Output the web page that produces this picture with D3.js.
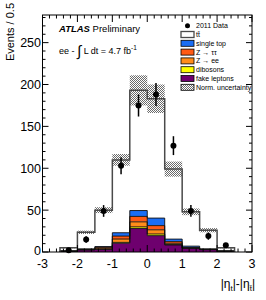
<!DOCTYPE html>
<html><head><meta charset="utf-8">
<script src="https://cdn.jsdelivr.net/npm/d3@7"></script>
<style>body{margin:0;background:#fff}svg{display:block}text{font-family:"Liberation Sans",Arial,sans-serif}</style>
</head><body>
<svg id="c" width="266" height="300"></svg>
<script>
const binEdges = [-2.5,-2,-1.5,-1,-0.5,0,0.5,1,1.5,2,2.5];
const fakeLeptons = [0.8, 2.5, 3.2, 10.5, 28, 19.5, 8.4, 4.4, 2.8, 0.8];
const dibosons    = [0.1, 0.2, 0.3, 1.0, 2.0, 2.0, 0.5, 0.2, 0.1, 0.1];
const zee         = [0.1, 0.3, 1.2, 4.0, 6.0, 5.0, 1.5, 0.4, 0.2, 0.1];
const ztautau     = [0.1, 0.3, 1.0, 3.5, 6.5, 5.0, 2.0, 0.5, 0.2, 0.1];
const singleTop   = [0.2, 0.4, 0.8, 4.0, 7.0, 9.0, 3.0, 1.5, 0.4, 0.2];
const ttbar       = [3.7, 19.8, 43.5, 87.0, 143.5, 142.5, 83.6, 41.0, 22.3, 3.7];
const normUnc     = [0.5, 2.0, 3.5, 7.0, 18.0, 17.0, 9.0, 4.0, 2.5, 0.5];
const dataX = [-2.25,-1.75,-1.25,-0.75,-0.25,0.25,0.75,1.25,1.75,2.25];
const dataY = [2, 15, 49, 103, 175, 188, 127, 49, 19, 8];
const xTicks = [-3,-2,-1,0,1,2,3];
const yTicks = [0,50,100,150,200,250];

const svg = d3.select("#c");
const x = d3.scaleLinear().domain([-3,3]).range([42.5,252]);
const y = d3.scaleLinear().domain([0,283]).range([252,15]);

const defs = svg.append("defs");
const pat = defs.append("pattern").attr("id","hatch").attr("patternUnits","userSpaceOnUse").attr("width",2).attr("height",2);
pat.append("rect").attr("x",0).attr("y",0).attr("width",1).attr("height",1).attr("fill","#6a6a6a");
pat.append("rect").attr("x",1).attr("y",1).attr("width",1).attr("height",1).attr("fill","#6a6a6a");

const layers = [
  {name:"fake leptons", vals:fakeLeptons, color:"#6e006e"},
  {name:"dibosons", vals:dibosons, color:"#ffff00"},
  {name:"Z → ee", vals:zee, color:"#ff8c1a"},
  {name:"Z → ττ", vals:ztautau, color:"#ff5a14"},
  {name:"single top", vals:singleTop, color:"#1a6ef5"},
  {name:"tt̄", vals:ttbar, color:"#ffffff"}
];
let cum = binEdges.slice(0,-1).map(()=>0);
const stacked = layers.map(l=>{
  const lo = cum.slice();
  cum = cum.map((c,i)=>c+l.vals[i]);
  return {...l, lo, hi: cum.slice()};
});
const total = cum.slice();

const area = d3.area().curve(d3.curveStepAfter).x(d=>x(d[0])).y0(d=>y(d[1])).y1(d=>y(d[2]));
const stepPts = arr => [[binEdges[0],0]].concat(...arr.map((v,i)=>[[binEdges[i],v],[binEdges[i+1],v]])).concat([[binEdges[10],0]]);
const poly = d3.line().x(d=>x(d[0])).y(d=>y(d[1]));

const g = svg.append("g");
stacked.slice().reverse().forEach(l=>{
  const p = binEdges.map((e,i)=>{const k=Math.min(i,l.hi.length-1);return [e,l.lo[k],l.hi[k]];});
  g.append("path").attr("d",area(p)).attr("fill",l.color).attr("stroke","none");
});
stacked.slice(0,5).forEach(l=>{
  g.append("path").attr("d", poly(stepPts(l.hi))).attr("fill","none").attr("stroke","#111").attr("stroke-width",0.9);
});
total.forEach((t,i)=>{
  g.append("rect").attr("x",x(binEdges[i])).attr("width",x(binEdges[i+1])-x(binEdges[i]))
   .attr("y",y(t+normUnc[i])).attr("height",y(t-normUnc[i])-y(t+normUnc[i]))
   .attr("fill","url(#hatch)");
});
g.append("path").attr("d", poly(stepPts(total))).attr("fill","none").attr("stroke","#4a4a4a").attr("stroke-width",1.5);

dataX.forEach((dx,i)=>{
  const e = Math.sqrt(dataY[i]);
  g.append("line").attr("x1",x(dx)).attr("x2",x(dx)).attr("y1",y(dataY[i]+e)).attr("y2",y(Math.max(0,dataY[i]-e)))
   .attr("stroke","#000").attr("stroke-width",1.5);
  g.append("circle").attr("cx",x(dx)).attr("cy",y(dataY[i])).attr("r",3).attr("fill","#000");
});

svg.append("rect").attr("x",42.5).attr("y",15).attr("width",252-42.5).attr("height",237).attr("fill","none").attr("stroke","#000").attr("stroke-width",1);
const tk = svg.append("g").attr("stroke","#000").attr("stroke-width",1);
d3.range(-3,3.0001,0.2).forEach(v=>{
  const major = Math.abs(v-Math.round(v))<1e-6;
  const len = major?7:3.5;
  tk.append("line").attr("x1",x(v)).attr("x2",x(v)).attr("y1",252).attr("y2",252-len);
  tk.append("line").attr("x1",x(v)).attr("x2",x(v)).attr("y1",15).attr("y2",15+len);
});
d3.range(0,281,10).forEach(v=>{
  const major = v%50===0;
  const len = major?6:3;
  tk.append("line").attr("y1",y(v)).attr("y2",y(v)).attr("x1",42.5).attr("x2",42.5+len);
  tk.append("line").attr("y1",y(v)).attr("y2",y(v)).attr("x1",252).attr("x2",252-len);
});
const lab = svg.append("g").attr("font-size",12.5).attr("fill","#000");
xTicks.forEach(v=>lab.append("text").attr("x",x(v)).attr("y",267.5).attr("text-anchor","middle").text(v));
yTicks.forEach(v=>lab.append("text").attr("x",41).attr("y",y(v)+(v===0?2.5:4.5)).attr("text-anchor","end").text(v));

svg.append("text").attr("transform","translate(14,3) rotate(-90)").attr("text-anchor","end").attr("font-size",11).text("Events / 0.5");
const xt = svg.append("text").attr("x",255).attr("y",288).attr("text-anchor","end").attr("font-size",12);
xt.append("tspan").text("|η");
xt.append("tspan").attr("font-size",8).attr("dy",3).text("t");
xt.append("tspan").attr("dy",-3).text("|-|η");
xt.append("tspan").attr("font-size",8).attr("dy",3).text("t̄");
xt.append("tspan").attr("dy",-3).text("|");

const at = svg.append("text").attr("x",59).attr("y",32).attr("font-size",9.5);
at.append("tspan").attr("font-weight","bold").attr("font-style","italic").text("ATLAS");
at.append("tspan").text(" Preliminary");
const lumi = svg.append("text").attr("x",59).attr("y",54).attr("font-size",9);
lumi.append("tspan").text("ee - ");
lumi.append("tspan").attr("font-size",15).attr("dy",2).text("∫");
lumi.append("tspan").attr("dy",-2).text(" L dt = 4.7 fb");
lumi.append("tspan").attr("font-size",6.5).attr("dy",-4).text("-1");

const leg = svg.append("g").attr("font-size",7);
const rows = [{name:"2011 Data", type:"data"}].concat(
  stacked.slice().reverse().map(l=>({name:l.name,type:"box",color:l.color})),
  [{name:"Norm. uncertainty", type:"hatch"}]);
rows.forEach((r,i)=>{
  const cy = 25.7 + i*8.8;
  if(r.type==="data") leg.append("circle").attr("cx",187.5).attr("cy",cy).attr("r",2.5).attr("fill","#000");
  else leg.append("rect").attr("x",181).attr("y",cy-3).attr("width",13).attr("height",6)
     .attr("fill", r.type==="hatch"?"url(#hatch)":r.color).attr("stroke",r.name==="tt̄"?"#4a4a4a":"#000").attr("stroke-width",r.name==="tt̄"?1.3:0.8);
  leg.append("text").attr("x",196).attr("y",cy+2.5).text(r.name);
});
</script>
</body></html>
